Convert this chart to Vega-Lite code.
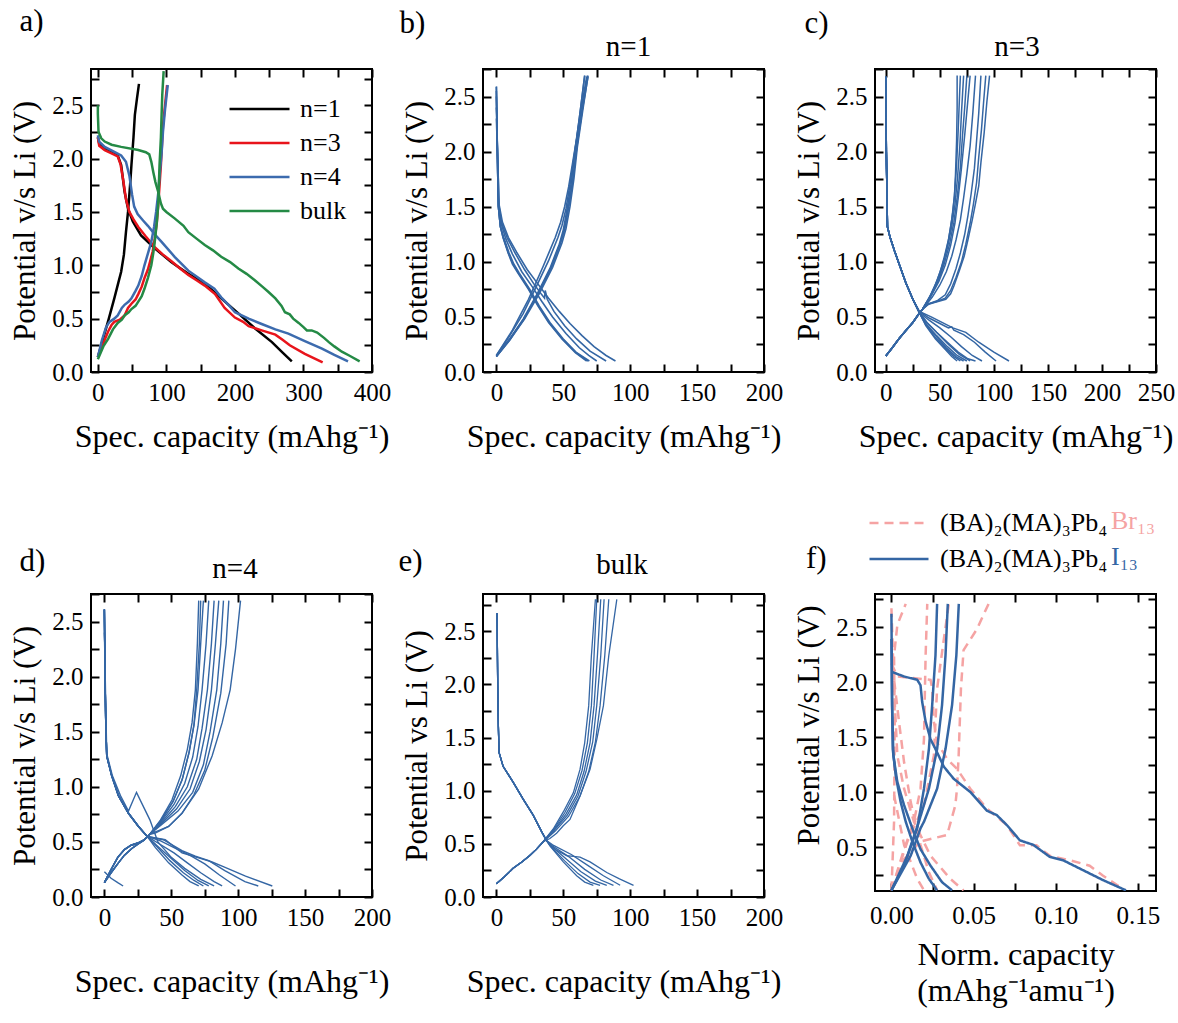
{
"$schema":"https://vega.github.io/schema/vega-lite/v6.json",
"background":"white",
"padding":{"left":8,"top":4,"right":5,"bottom":5},
"bounds":"flush",
"columns":3,
"spacing":{"row":222,"column":111},
"resolve":{"scale":{"color":"independent","strokeDash":"independent","strokeWidth":"independent"},"legend":{"color":"independent","strokeDash":"independent","strokeWidth":"independent"}},
"concat":[
{
"width":281,"height":303,
"resolve":{"axis":{"x":"independent","y":"independent"}},
"data":{"values":[
{"n":"n=1","s":"1d","x":0,"y":2.2},{"n":"n=1","s":"1d","x":2,"y":2.14},{"n":"n=1","s":"1d","x":8,"y":2.1},{"n":"n=1","s":"1d","x":20,"y":2.06},{"n":"n=1","s":"1d","x":29,"y":2.03},{"n":"n=1","s":"1d","x":34,"y":1.94},{"n":"n=1","s":"1d","x":39,"y":1.69},{"n":"n=1","s":"1d","x":44,"y":1.53},{"n":"n=1","s":"1d","x":51,"y":1.41},{"n":"n=1","s":"1d","x":63,"y":1.28},{"n":"n=1","s":"1d","x":83,"y":1.16},{"n":"n=1","s":"1d","x":107,"y":1.03},{"n":"n=1","s":"1d","x":132,"y":0.92},{"n":"n=1","s":"1d","x":156,"y":0.83},{"n":"n=1","s":"1d","x":180,"y":0.69},{"n":"n=1","s":"1d","x":205,"y":0.55},{"n":"n=1","s":"1d","x":229,"y":0.41},{"n":"n=1","s":"1d","x":254,"y":0.28},{"n":"n=1","s":"1d","x":270,"y":0.18},{"n":"n=1","s":"1d","x":283,"y":0.1},
{"n":"n=1","s":"1c","x":0,"y":0.14},{"n":"n=1","s":"1c","x":8,"y":0.32},{"n":"n=1","s":"1c","x":16,"y":0.5},{"n":"n=1","s":"1c","x":24,"y":0.69},{"n":"n=1","s":"1c","x":30,"y":0.84},{"n":"n=1","s":"1c","x":34,"y":0.94},{"n":"n=1","s":"1c","x":38,"y":1.1},{"n":"n=1","s":"1c","x":41,"y":1.31},{"n":"n=1","s":"1c","x":44,"y":1.5},{"n":"n=1","s":"1c","x":47,"y":1.75},{"n":"n=1","s":"1c","x":49,"y":1.94},{"n":"n=1","s":"1c","x":52,"y":2.2},{"n":"n=1","s":"1c","x":54,"y":2.41},{"n":"n=1","s":"1c","x":57,"y":2.56},{"n":"n=1","s":"1c","x":60,"y":2.7},
{"n":"n=3","s":"3d","x":0,"y":2.2},{"n":"n=3","s":"3d","x":2,"y":2.12},{"n":"n=3","s":"3d","x":10,"y":2.08},{"n":"n=3","s":"3d","x":20,"y":2.05},{"n":"n=3","s":"3d","x":29,"y":2.02},{"n":"n=3","s":"3d","x":33,"y":1.95},{"n":"n=3","s":"3d","x":37,"y":1.8},{"n":"n=3","s":"3d","x":41,"y":1.62},{"n":"n=3","s":"3d","x":46,"y":1.5},{"n":"n=3","s":"3d","x":52,"y":1.43},{"n":"n=3","s":"3d","x":59,"y":1.36},{"n":"n=3","s":"3d","x":70,"y":1.27},{"n":"n=3","s":"3d","x":83,"y":1.17},{"n":"n=3","s":"3d","x":95,"y":1.1},{"n":"n=3","s":"3d","x":107,"y":1.04},{"n":"n=3","s":"3d","x":120,"y":0.97},{"n":"n=3","s":"3d","x":132,"y":0.91},{"n":"n=3","s":"3d","x":144,"y":0.86},{"n":"n=3","s":"3d","x":156,"y":0.81},{"n":"n=3","s":"3d","x":171,"y":0.73},{"n":"n=3","s":"3d","x":185,"y":0.6},{"n":"n=3","s":"3d","x":200,"y":0.51},{"n":"n=3","s":"3d","x":212,"y":0.47},{"n":"n=3","s":"3d","x":220,"y":0.43},{"n":"n=3","s":"3d","x":239,"y":0.39},{"n":"n=3","s":"3d","x":259,"y":0.35},{"n":"n=3","s":"3d","x":270,"y":0.3},{"n":"n=3","s":"3d","x":280,"y":0.25},{"n":"n=3","s":"3d","x":302,"y":0.17},{"n":"n=3","s":"3d","x":328,"y":0.09},
{"n":"n=3","s":"3c","x":0,"y":0.14},{"n":"n=3","s":"3c","x":8,"y":0.27},{"n":"n=3","s":"3c","x":15,"y":0.38},{"n":"n=3","s":"3c","x":20,"y":0.44},{"n":"n=3","s":"3c","x":24,"y":0.47},{"n":"n=3","s":"3c","x":32,"y":0.49},{"n":"n=3","s":"3c","x":39,"y":0.53},{"n":"n=3","s":"3c","x":44,"y":0.6},{"n":"n=3","s":"3c","x":49,"y":0.64},{"n":"n=3","s":"3c","x":55,"y":0.68},{"n":"n=3","s":"3c","x":59,"y":0.73},{"n":"n=3","s":"3c","x":64,"y":0.8},{"n":"n=3","s":"3c","x":68,"y":0.88},{"n":"n=3","s":"3c","x":73,"y":0.96},{"n":"n=3","s":"3c","x":76,"y":1.03},{"n":"n=3","s":"3c","x":80,"y":1.13},{"n":"n=3","s":"3c","x":83,"y":1.25},{"n":"n=3","s":"3c","x":86,"y":1.4},{"n":"n=3","s":"3c","x":88,"y":1.56},{"n":"n=3","s":"3c","x":90,"y":1.75},{"n":"n=3","s":"3c","x":92,"y":1.94},{"n":"n=3","s":"3c","x":95,"y":2.31},{"n":"n=3","s":"3c","x":98,"y":2.5},{"n":"n=3","s":"3c","x":101,"y":2.69},
{"n":"n=4","s":"4d","x":0,"y":2.22},{"n":"n=4","s":"4d","x":2,"y":2.16},{"n":"n=4","s":"4d","x":10,"y":2.11},{"n":"n=4","s":"4d","x":22,"y":2.07},{"n":"n=4","s":"4d","x":34,"y":2.03},{"n":"n=4","s":"4d","x":41,"y":1.97},{"n":"n=4","s":"4d","x":46,"y":1.84},{"n":"n=4","s":"4d","x":50,"y":1.66},{"n":"n=4","s":"4d","x":53,"y":1.55},{"n":"n=4","s":"4d","x":58,"y":1.48},{"n":"n=4","s":"4d","x":66,"y":1.42},{"n":"n=4","s":"4d","x":73,"y":1.37},{"n":"n=4","s":"4d","x":83,"y":1.29},{"n":"n=4","s":"4d","x":93,"y":1.22},{"n":"n=4","s":"4d","x":112,"y":1.08},{"n":"n=4","s":"4d","x":132,"y":0.95},{"n":"n=4","s":"4d","x":156,"y":0.84},{"n":"n=4","s":"4d","x":170,"y":0.78},{"n":"n=4","s":"4d","x":180,"y":0.7},{"n":"n=4","s":"4d","x":192,"y":0.62},{"n":"n=4","s":"4d","x":200,"y":0.56},{"n":"n=4","s":"4d","x":210,"y":0.53},{"n":"n=4","s":"4d","x":220,"y":0.5},{"n":"n=4","s":"4d","x":239,"y":0.45},{"n":"n=4","s":"4d","x":259,"y":0.4},{"n":"n=4","s":"4d","x":278,"y":0.36},{"n":"n=4","s":"4d","x":302,"y":0.29},{"n":"n=4","s":"4d","x":327,"y":0.22},{"n":"n=4","s":"4d","x":345,"y":0.16},{"n":"n=4","s":"4d","x":365,"y":0.1},
{"n":"n=4","s":"4c","x":0,"y":0.14},{"n":"n=4","s":"4c","x":6,"y":0.3},{"n":"n=4","s":"4c","x":12,"y":0.42},{"n":"n=4","s":"4c","x":17,"y":0.47},{"n":"n=4","s":"4c","x":24,"y":0.5},{"n":"n=4","s":"4c","x":29,"y":0.53},{"n":"n=4","s":"4c","x":35,"y":0.6},{"n":"n=4","s":"4c","x":39,"y":0.63},{"n":"n=4","s":"4c","x":45,"y":0.66},{"n":"n=4","s":"4c","x":49,"y":0.69},{"n":"n=4","s":"4c","x":55,"y":0.76},{"n":"n=4","s":"4c","x":59,"y":0.81},{"n":"n=4","s":"4c","x":64,"y":0.9},{"n":"n=4","s":"4c","x":68,"y":1},{"n":"n=4","s":"4c","x":73,"y":1.11},{"n":"n=4","s":"4c","x":78,"y":1.22},{"n":"n=4","s":"4c","x":82,"y":1.36},{"n":"n=4","s":"4c","x":85,"y":1.5},{"n":"n=4","s":"4c","x":88,"y":1.67},{"n":"n=4","s":"4c","x":90,"y":1.84},{"n":"n=4","s":"4c","x":93,"y":2.05},{"n":"n=4","s":"4c","x":95,"y":2.25},{"n":"n=4","s":"4c","x":98,"y":2.46},{"n":"n=4","s":"4c","x":102,"y":2.69},
{"n":"bulk","s":"bd","x":0,"y":2.5},{"n":"bulk","s":"bd","x":0,"y":2.42},{"n":"bulk","s":"bd","x":1,"y":2.25},{"n":"bulk","s":"bd","x":5,"y":2.19},{"n":"bulk","s":"bd","x":10,"y":2.16},{"n":"bulk","s":"bd","x":20,"y":2.13},{"n":"bulk","s":"bd","x":34,"y":2.11},{"n":"bulk","s":"bd","x":59,"y":2.08},{"n":"bulk","s":"bd","x":70,"y":2.06},{"n":"bulk","s":"bd","x":75,"y":2.04},{"n":"bulk","s":"bd","x":78,"y":1.97},{"n":"bulk","s":"bd","x":81,"y":1.87},{"n":"bulk","s":"bd","x":84,"y":1.78},{"n":"bulk","s":"bd","x":88,"y":1.69},{"n":"bulk","s":"bd","x":92,"y":1.58},{"n":"bulk","s":"bd","x":95,"y":1.53},{"n":"bulk","s":"bd","x":100,"y":1.5},{"n":"bulk","s":"bd","x":112,"y":1.44},{"n":"bulk","s":"bd","x":125,"y":1.37},{"n":"bulk","s":"bd","x":132,"y":1.31},{"n":"bulk","s":"bd","x":144,"y":1.25},{"n":"bulk","s":"bd","x":156,"y":1.19},{"n":"bulk","s":"bd","x":168,"y":1.14},{"n":"bulk","s":"bd","x":180,"y":1.08},{"n":"bulk","s":"bd","x":193,"y":1.03},{"n":"bulk","s":"bd","x":205,"y":0.97},{"n":"bulk","s":"bd","x":217,"y":0.92},{"n":"bulk","s":"bd","x":229,"y":0.86},{"n":"bulk","s":"bd","x":240,"y":0.8},{"n":"bulk","s":"bd","x":249,"y":0.75},{"n":"bulk","s":"bd","x":259,"y":0.69},{"n":"bulk","s":"bd","x":268,"y":0.62},{"n":"bulk","s":"bd","x":273,"y":0.56},{"n":"bulk","s":"bd","x":280,"y":0.54},{"n":"bulk","s":"bd","x":285,"y":0.5},{"n":"bulk","s":"bd","x":293,"y":0.46},{"n":"bulk","s":"bd","x":300,"y":0.42},{"n":"bulk","s":"bd","x":305,"y":0.39},{"n":"bulk","s":"bd","x":312,"y":0.39},{"n":"bulk","s":"bd","x":320,"y":0.37},{"n":"bulk","s":"bd","x":330,"y":0.32},{"n":"bulk","s":"bd","x":337,"y":0.28},{"n":"bulk","s":"bd","x":345,"y":0.24},{"n":"bulk","s":"bd","x":356,"y":0.19},{"n":"bulk","s":"bd","x":368,"y":0.15},{"n":"bulk","s":"bd","x":382,"y":0.1},
{"n":"bulk","s":"bc","x":0,"y":0.12},{"n":"bulk","s":"bc","x":8,"y":0.24},{"n":"bulk","s":"bc","x":15,"y":0.31},{"n":"bulk","s":"bc","x":22,"y":0.4},{"n":"bulk","s":"bc","x":29,"y":0.46},{"n":"bulk","s":"bc","x":35,"y":0.49},{"n":"bulk","s":"bc","x":39,"y":0.53},{"n":"bulk","s":"bc","x":45,"y":0.56},{"n":"bulk","s":"bc","x":49,"y":0.59},{"n":"bulk","s":"bc","x":55,"y":0.62},{"n":"bulk","s":"bc","x":59,"y":0.66},{"n":"bulk","s":"bc","x":64,"y":0.71},{"n":"bulk","s":"bc","x":68,"y":0.78},{"n":"bulk","s":"bc","x":73,"y":0.88},{"n":"bulk","s":"bc","x":78,"y":1},{"n":"bulk","s":"bc","x":81,"y":1.12},{"n":"bulk","s":"bc","x":83,"y":1.22},{"n":"bulk","s":"bc","x":86,"y":1.4},{"n":"bulk","s":"bc","x":88,"y":1.56},{"n":"bulk","s":"bc","x":89,"y":1.75},{"n":"bulk","s":"bc","x":90,"y":1.94},{"n":"bulk","s":"bc","x":92,"y":2.2},{"n":"bulk","s":"bc","x":93,"y":2.41},{"n":"bulk","s":"bc","x":94,"y":2.6},{"n":"bulk","s":"bc","x":96,"y":2.82}
]},
"layer":[
{"mark":{"type":"line","strokeWidth":2.5,"clip":true},
"encoding":{
"x":{"field":"x","type":"quantitative","scale":{"domain":[-10,400],"nice":false,"zero":false},"axis":{"orient":"bottom","values":[0,50,100,150,200,250,300,350,400],"format":"d","labelExpr":"datum.value % 100 == 0 ? datum.label : ''","title":"Spec. capacity (mAhg⁻¹)","titlePadding":16}},
"y":{"field":"y","type":"quantitative","scale":{"domain":[0,2.84],"nice":false,"zero":false},"axis":{"orient":"left","values":[0,0.25,0.5,0.75,1,1.25,1.5,1.75,2,2.25,2.5,2.75],"format":".1f","labelExpr":"datum.value % 0.5 == 0 ? datum.label : ''","title":"Potential v/s Li (V)"}},
"color":{"field":"n","type":"nominal","scale":{"domain":["n=1","n=3","n=4","bulk"],"range":["#000000","#e8141b","#3c6bae","#248a45"]},"legend":{"orient":"none","legendX":137,"legendY":23,"title":null,"symbolType":"stroke","symbolSize":3600,"symbolStrokeWidth":2.5,"labelOffset":9,"labelFontSize":26,"rowPadding":0,"clipHeight":34}},
"detail":{"field":"s"},
"order":{"value":null}
}},
{"mark":{"type":"line","opacity":0},
"encoding":{
"x":{"field":"x","type":"quantitative","axis":{"orient":"top","values":[0,50,100,150,200,250,300,350,400],"labels":false,"title":"a)","titleX":-72,"titleY":-39,"titleAlign":"left","titleBaseline":"alphabetic","titleAngle":0,"titleFontSize":31}},
"y":{"field":"y","type":"quantitative","axis":{"orient":"right","values":[0,0.25,0.5,0.75,1,1.25,1.5,1.75,2,2.25,2.5,2.75],"labels":false,"title":null}},
"detail":{"field":"s"}
}}
]
},
{
"width":281,"height":303,
"resolve":{"axis":{"x":"independent","y":"independent"}},
"data":{"values":[
{"s":"1d","x":0,"y":2.59},{"s":"1d","x":1,"y":1.8},{"s":"1d","x":1.5,"y":1.5},{"s":"1d","x":3,"y":1.32},{"s":"1d","x":5,"y":1.22},{"s":"1d","x":8.75,"y":1.08},{"s":"1d","x":12,"y":0.98},{"s":"1d","x":16,"y":0.9},{"s":"1d","x":24,"y":0.75},{"s":"1d","x":31,"y":0.6},{"s":"1d","x":39,"y":0.45},{"s":"1d","x":49,"y":0.3},{"s":"1d","x":59,"y":0.175},{"s":"1d","x":67.5,"y":0.1},
{"s":"2d","x":0,"y":2.59},{"s":"2d","x":1,"y":1.8},{"s":"2d","x":1.5,"y":1.5},{"s":"2d","x":3,"y":1.32},{"s":"2d","x":5,"y":1.22},{"s":"2d","x":9,"y":1.08},{"s":"2d","x":12.5,"y":0.98},{"s":"2d","x":16.5,"y":0.9},{"s":"2d","x":24.5,"y":0.75},{"s":"2d","x":31.5,"y":0.6},{"s":"2d","x":39.5,"y":0.45},{"s":"2d","x":49.5,"y":0.3},{"s":"2d","x":59.5,"y":0.175},{"s":"2d","x":68.5,"y":0.1},
{"s":"3d","x":0,"y":2.55},{"s":"3d","x":1,"y":1.8},{"s":"3d","x":1.5,"y":1.5},{"s":"3d","x":3,"y":1.32},{"s":"3d","x":5.5,"y":1.22},{"s":"3d","x":9.5,"y":1.08},{"s":"3d","x":13,"y":0.98},{"s":"3d","x":17,"y":0.9},{"s":"3d","x":25,"y":0.75},{"s":"3d","x":32,"y":0.6},{"s":"3d","x":40,"y":0.45},{"s":"3d","x":50,"y":0.3},{"s":"3d","x":60,"y":0.175},{"s":"3d","x":69.5,"y":0.1},
{"s":"4d","x":0,"y":2.5},{"s":"4d","x":1.5,"y":1.52},{"s":"4d","x":3.5,"y":1.35},{"s":"4d","x":7,"y":1.21},{"s":"4d","x":12,"y":1.07},{"s":"4d","x":19,"y":0.91},{"s":"4d","x":27,"y":0.77},{"s":"4d","x":34,"y":0.64},{"s":"4d","x":42,"y":0.5},{"s":"4d","x":52,"y":0.35},{"s":"4d","x":62,"y":0.22},{"s":"4d","x":69,"y":0.15},{"s":"4d","x":75,"y":0.1},
{"s":"5d","x":0,"y":2.4},{"s":"5d","x":2,"y":1.5},{"s":"5d","x":4,"y":1.35},{"s":"5d","x":8,"y":1.22},{"s":"5d","x":14,"y":1.08},{"s":"5d","x":21,"y":0.93},{"s":"5d","x":28,"y":0.8},{"s":"5d","x":34,"y":0.7},{"s":"5d","x":36,"y":0.67},{"s":"5d","x":36.5,"y":0.74},{"s":"5d","x":38,"y":0.66},{"s":"5d","x":43,"y":0.55},{"s":"5d","x":51,"y":0.42},{"s":"5d","x":60,"y":0.3},{"s":"5d","x":70,"y":0.19},{"s":"5d","x":82,"y":0.1},
{"s":"6d","x":0,"y":2.3},{"s":"6d","x":2,"y":1.52},{"s":"6d","x":4.5,"y":1.36},{"s":"6d","x":9,"y":1.22},{"s":"6d","x":15,"y":1.09},{"s":"6d","x":23,"y":0.93},{"s":"6d","x":31,"y":0.8},{"s":"6d","x":39,"y":0.67},{"s":"6d","x":47,"y":0.55},{"s":"6d","x":55,"y":0.44},{"s":"6d","x":64,"y":0.33},{"s":"6d","x":73,"y":0.23},{"s":"6d","x":82,"y":0.15},{"s":"6d","x":89,"y":0.1},
{"s":"1c","x":0,"y":0.145},{"s":"1c","x":10,"y":0.3},{"s":"1c","x":20,"y":0.48},{"s":"1c","x":31,"y":0.72},{"s":"1c","x":40,"y":0.94},{"s":"1c","x":47,"y":1.16},{"s":"1c","x":50,"y":1.29},{"s":"1c","x":53,"y":1.49},{"s":"1c","x":56,"y":1.72},{"s":"1c","x":59,"y":2.03},{"s":"1c","x":63,"y":2.36},{"s":"1c","x":67.5,"y":2.68},
{"s":"2c","x":0,"y":0.15},{"s":"2c","x":10,"y":0.33},{"s":"2c","x":20,"y":0.53},{"s":"2c","x":30,"y":0.78},{"s":"2c","x":39,"y":1.01},{"s":"2c","x":46,"y":1.22},{"s":"2c","x":49,"y":1.33},{"s":"2c","x":52,"y":1.48},{"s":"2c","x":55,"y":1.7},{"s":"2c","x":58,"y":1.95},{"s":"2c","x":62,"y":2.3},{"s":"2c","x":66,"y":2.69},
{"s":"3c","x":0,"y":0.15},{"s":"3c","x":12,"y":0.38},{"s":"3c","x":24,"y":0.66},{"s":"3c","x":35,"y":0.96},{"s":"3c","x":44,"y":1.22},{"s":"3c","x":48,"y":1.36},{"s":"3c","x":51,"y":1.5},{"s":"3c","x":54,"y":1.68},{"s":"3c","x":57,"y":1.9},{"s":"3c","x":60,"y":2.12},{"s":"3c","x":63,"y":2.4},{"s":"3c","x":66,"y":2.69},
{"s":"4c","x":0,"y":0.14},{"s":"4c","x":10,"y":0.29},{"s":"4c","x":21,"y":0.49},{"s":"4c","x":32,"y":0.73},{"s":"4c","x":41,"y":0.95},{"s":"4c","x":48,"y":1.17},{"s":"4c","x":51,"y":1.3},{"s":"4c","x":54,"y":1.5},{"s":"4c","x":57,"y":1.73},{"s":"4c","x":60,"y":2.04},{"s":"4c","x":64,"y":2.37},{"s":"4c","x":68,"y":2.69},
{"s":"5c","x":0,"y":0.14},{"s":"5c","x":10,"y":0.3},{"s":"5c","x":20,"y":0.47},{"s":"5c","x":31,"y":0.71},{"s":"5c","x":41,"y":0.95},{"s":"5c","x":48,"y":1.18},{"s":"5c","x":51,"y":1.3},{"s":"5c","x":54,"y":1.5},{"s":"5c","x":57,"y":1.73},{"s":"5c","x":60,"y":2.03},{"s":"5c","x":64,"y":2.36},{"s":"5c","x":68.5,"y":2.68},
{"s":"6c","x":0,"y":0.14},{"s":"6c","x":10,"y":0.29},{"s":"6c","x":21,"y":0.48},{"s":"6c","x":32,"y":0.71},{"s":"6c","x":42,"y":0.95},{"s":"6c","x":49,"y":1.17},{"s":"6c","x":52,"y":1.3},{"s":"6c","x":55,"y":1.5},{"s":"6c","x":58,"y":1.76},{"s":"6c","x":60.5,"y":2.04},{"s":"6c","x":64.5,"y":2.37},{"s":"6c","x":68.5,"y":2.69}
]},
"layer":[
{"mark":{"type":"line","strokeWidth":1.6,"color":"#3466a4","clip":true},
"encoding":{
"x":{"field":"x","type":"quantitative","scale":{"domain":[-10,200],"nice":false,"zero":false},"axis":{"orient":"bottom","values":[0,25,50,75,100,125,150,175,200],"format":"d","labelExpr":"datum.value % 50 == 0 ? datum.label : ''","title":"Spec. capacity (mAhg⁻¹)","titlePadding":16}},
"y":{"field":"y","type":"quantitative","scale":{"domain":[0,2.75],"nice":false,"zero":false},"axis":{"orient":"left","values":[0,0.25,0.5,0.75,1,1.25,1.5,1.75,2,2.25,2.5,2.75],"format":".1f","labelExpr":"datum.value % 0.5 == 0 ? datum.label : ''","title":"Potential v/s Li (V)"}},
"detail":{"field":"s"},
"order":{"value":null}
}},
{"mark":{"type":"line","opacity":0},
"encoding":{
"x":{"field":"x","type":"quantitative","axis":{"orient":"top","values":[0,25,50,75,100,125,150,175,200],"labels":false,"title":"b)","titleX":-84,"titleY":-37,"titleAlign":"left","titleBaseline":"alphabetic","titleAngle":0,"titleFontSize":31}},
"y":{"field":"y","type":"quantitative","axis":{"orient":"right","values":[0,0.25,0.5,0.75,1,1.25,1.5,1.75,2,2.25,2.5,2.75],"labels":false,"title":"n=1","titleX":-136,"titleY":-14,"titleAngle":0,"titleAlign":"center","titleBaseline":"alphabetic","titleFontSize":29}},
"detail":{"field":"s"}
}}
]
},
{
"width":281,"height":303,
"resolve":{"axis":{"x":"independent","y":"independent"}},
"data":{"values":[
{"s":"1d","x":0,"y":2.68},{"s":"1d","x":0.5,"y":2},{"s":"1d","x":1.5,"y":1.32},{"s":"1d","x":4,"y":1.22},{"s":"1d","x":8,"y":1.1},{"s":"1d","x":12,"y":0.99},{"s":"1d","x":18.5,"y":0.81},{"s":"1d","x":25,"y":0.66},{"s":"1d","x":31,"y":0.54},{"s":"1d","x":37,"y":0.42},{"s":"1d","x":46,"y":0.3},{"s":"1d","x":55.5,"y":0.2},{"s":"1d","x":61,"y":0.14},{"s":"1d","x":66,"y":0.1},
{"s":"2d","x":0,"y":2.68},{"s":"2d","x":0.5,"y":2},{"s":"2d","x":1.5,"y":1.32},{"s":"2d","x":4,"y":1.22},{"s":"2d","x":8,"y":1.1},{"s":"2d","x":12,"y":0.99},{"s":"2d","x":18.5,"y":0.81},{"s":"2d","x":25,"y":0.66},{"s":"2d","x":31,"y":0.54},{"s":"2d","x":37,"y":0.43},{"s":"2d","x":46,"y":0.31},{"s":"2d","x":56,"y":0.21},{"s":"2d","x":63,"y":0.14},{"s":"2d","x":69,"y":0.1},
{"s":"3d","x":0,"y":2.68},{"s":"3d","x":0.5,"y":2},{"s":"3d","x":1.5,"y":1.32},{"s":"3d","x":4,"y":1.22},{"s":"3d","x":8,"y":1.1},{"s":"3d","x":12,"y":0.99},{"s":"3d","x":18.5,"y":0.81},{"s":"3d","x":25,"y":0.66},{"s":"3d","x":31,"y":0.54},{"s":"3d","x":37,"y":0.43},{"s":"3d","x":47,"y":0.32},{"s":"3d","x":56,"y":0.22},{"s":"3d","x":65,"y":0.14},{"s":"3d","x":72,"y":0.1},
{"s":"9d","x":0,"y":2.68},{"s":"9d","x":0.5,"y":2},{"s":"9d","x":1.5,"y":1.32},{"s":"9d","x":4,"y":1.22},{"s":"9d","x":8,"y":1.1},{"s":"9d","x":12,"y":0.99},{"s":"9d","x":18.5,"y":0.81},{"s":"9d","x":25,"y":0.66},{"s":"9d","x":31,"y":0.54},{"s":"9d","x":37,"y":0.44},{"s":"9d","x":47,"y":0.33},{"s":"9d","x":57,"y":0.23},{"s":"9d","x":66,"y":0.15},{"s":"9d","x":75,"y":0.1},
{"s":"4d","x":0,"y":2.68},{"s":"4d","x":0.5,"y":2},{"s":"4d","x":1.5,"y":1.32},{"s":"4d","x":4,"y":1.22},{"s":"4d","x":8,"y":1.1},{"s":"4d","x":12,"y":0.99},{"s":"4d","x":18.5,"y":0.81},{"s":"4d","x":25,"y":0.66},{"s":"4d","x":31,"y":0.54},{"s":"4d","x":38,"y":0.45},{"s":"4d","x":48,"y":0.35},{"s":"4d","x":58,"y":0.25},{"s":"4d","x":68,"y":0.16},{"s":"4d","x":78,"y":0.1},
{"s":"8d","x":0,"y":2.68},{"s":"8d","x":0.5,"y":2},{"s":"8d","x":1.5,"y":1.32},{"s":"8d","x":4,"y":1.22},{"s":"8d","x":8,"y":1.1},{"s":"8d","x":12,"y":0.99},{"s":"8d","x":18.5,"y":0.81},{"s":"8d","x":25,"y":0.66},{"s":"8d","x":31,"y":0.54},{"s":"8d","x":38,"y":0.45},{"s":"8d","x":47,"y":0.36},{"s":"8d","x":57,"y":0.27},{"s":"8d","x":67,"y":0.18},{"s":"8d","x":76,"y":0.12},{"s":"8d","x":83,"y":0.1},
{"s":"5d","x":0,"y":2.68},{"s":"5d","x":0.5,"y":2},{"s":"5d","x":1.5,"y":1.32},{"s":"5d","x":4,"y":1.22},{"s":"5d","x":8,"y":1.1},{"s":"5d","x":12,"y":0.99},{"s":"5d","x":18.5,"y":0.81},{"s":"5d","x":25,"y":0.66},{"s":"5d","x":31,"y":0.54},{"s":"5d","x":40,"y":0.47},{"s":"5d","x":50,"y":0.4},{"s":"5d","x":60,"y":0.32},{"s":"5d","x":70,"y":0.23},{"s":"5d","x":80,"y":0.15},{"s":"5d","x":89,"y":0.1},
{"s":"6d","x":0,"y":2.68},{"s":"6d","x":0.5,"y":2},{"s":"6d","x":1.5,"y":1.32},{"s":"6d","x":4,"y":1.22},{"s":"6d","x":8,"y":1.1},{"s":"6d","x":12,"y":0.99},{"s":"6d","x":18.5,"y":0.81},{"s":"6d","x":25,"y":0.66},{"s":"6d","x":31,"y":0.55},{"s":"6d","x":40,"y":0.49},{"s":"6d","x":50,"y":0.44},{"s":"6d","x":58,"y":0.4},{"s":"6d","x":61,"y":0.41},{"s":"6d","x":63,"y":0.38},{"s":"6d","x":72,"y":0.34},{"s":"6d","x":82,"y":0.27},{"s":"6d","x":92,"y":0.18},{"s":"6d","x":102,"y":0.1},
{"s":"7d","x":0,"y":2.68},{"s":"7d","x":0.5,"y":2},{"s":"7d","x":1.5,"y":1.32},{"s":"7d","x":4,"y":1.22},{"s":"7d","x":8,"y":1.1},{"s":"7d","x":12,"y":0.99},{"s":"7d","x":18.5,"y":0.81},{"s":"7d","x":25,"y":0.66},{"s":"7d","x":31,"y":0.55},{"s":"7d","x":42,"y":0.5},{"s":"7d","x":52,"y":0.45},{"s":"7d","x":62,"y":0.4},{"s":"7d","x":74,"y":0.36},{"s":"7d","x":86,"y":0.27},{"s":"7d","x":100,"y":0.18},{"s":"7d","x":114,"y":0.1},
{"s":"1c","x":0,"y":0.145},{"s":"1c","x":6,"y":0.22},{"s":"1c","x":12,"y":0.3},{"s":"1c","x":18,"y":0.37},{"s":"1c","x":25,"y":0.45},{"s":"1c","x":30,"y":0.52},{"s":"1c","x":34,"y":0.57},{"s":"1c","x":39,"y":0.65},{"s":"1c","x":43,"y":0.72},{"s":"1c","x":47,"y":0.81},{"s":"1c","x":51,"y":0.9},{"s":"1c","x":55.5,"y":1.08},{"s":"1c","x":58,"y":1.2},{"s":"1c","x":60,"y":1.32},{"s":"1c","x":62,"y":1.45},{"s":"1c","x":63.5,"y":1.6},{"s":"1c","x":64.5,"y":1.8},{"s":"1c","x":65.5,"y":2.1},{"s":"1c","x":66,"y":2.4},{"s":"1c","x":66,"y":2.69},
{"s":"2c","x":0,"y":0.145},{"s":"2c","x":6,"y":0.22},{"s":"2c","x":12,"y":0.3},{"s":"2c","x":18,"y":0.37},{"s":"2c","x":25,"y":0.45},{"s":"2c","x":30,"y":0.52},{"s":"2c","x":34,"y":0.57},{"s":"2c","x":40,"y":0.67},{"s":"2c","x":45,"y":0.77},{"s":"2c","x":50,"y":0.9},{"s":"2c","x":54,"y":1.04},{"s":"2c","x":58,"y":1.2},{"s":"2c","x":61,"y":1.38},{"s":"2c","x":63.5,"y":1.6},{"s":"2c","x":65.5,"y":1.88},{"s":"2c","x":67,"y":2.2},{"s":"2c","x":68,"y":2.45},{"s":"2c","x":69,"y":2.69},
{"s":"3c","x":0,"y":0.145},{"s":"3c","x":6,"y":0.22},{"s":"3c","x":12,"y":0.3},{"s":"3c","x":18,"y":0.37},{"s":"3c","x":25,"y":0.45},{"s":"3c","x":30,"y":0.52},{"s":"3c","x":34,"y":0.57},{"s":"3c","x":41,"y":0.69},{"s":"3c","x":47,"y":0.82},{"s":"3c","x":52,"y":0.96},{"s":"3c","x":57,"y":1.13},{"s":"3c","x":61,"y":1.32},{"s":"3c","x":64,"y":1.52},{"s":"3c","x":66.5,"y":1.78},{"s":"3c","x":68.5,"y":2.05},{"s":"3c","x":70,"y":2.35},{"s":"3c","x":72,"y":2.69},
{"s":"4c","x":0,"y":0.145},{"s":"4c","x":6,"y":0.22},{"s":"4c","x":12,"y":0.3},{"s":"4c","x":18,"y":0.37},{"s":"4c","x":25,"y":0.45},{"s":"4c","x":30,"y":0.52},{"s":"4c","x":34,"y":0.57},{"s":"4c","x":42,"y":0.7},{"s":"4c","x":49,"y":0.84},{"s":"4c","x":54,"y":0.98},{"s":"4c","x":59,"y":1.16},{"s":"4c","x":63,"y":1.36},{"s":"4c","x":66,"y":1.58},{"s":"4c","x":69,"y":1.86},{"s":"4c","x":71,"y":2.15},{"s":"4c","x":73,"y":2.4},{"s":"4c","x":75,"y":2.69},
{"s":"9c","x":0,"y":0.145},{"s":"9c","x":6,"y":0.22},{"s":"9c","x":12,"y":0.3},{"s":"9c","x":18,"y":0.37},{"s":"9c","x":25,"y":0.45},{"s":"9c","x":30,"y":0.52},{"s":"9c","x":34,"y":0.57},{"s":"9c","x":42,"y":0.69},{"s":"9c","x":49,"y":0.82},{"s":"9c","x":55,"y":0.97},{"s":"9c","x":60,"y":1.15},{"s":"9c","x":64,"y":1.35},{"s":"9c","x":67,"y":1.58},{"s":"9c","x":70,"y":1.85},{"s":"9c","x":73,"y":2.15},{"s":"9c","x":75.5,"y":2.42},{"s":"9c","x":78,"y":2.69},
{"s":"5c","x":0,"y":0.145},{"s":"5c","x":6,"y":0.22},{"s":"5c","x":12,"y":0.3},{"s":"5c","x":18,"y":0.37},{"s":"5c","x":25,"y":0.45},{"s":"5c","x":30,"y":0.52},{"s":"5c","x":34,"y":0.57},{"s":"5c","x":43,"y":0.68},{"s":"5c","x":50,"y":0.79},{"s":"5c","x":56,"y":0.91},{"s":"5c","x":61,"y":1.05},{"s":"5c","x":65,"y":1.2},{"s":"5c","x":69,"y":1.38},{"s":"5c","x":72,"y":1.58},{"s":"5c","x":75,"y":1.8},{"s":"5c","x":78,"y":2.05},{"s":"5c","x":80.5,"y":2.35},{"s":"5c","x":83,"y":2.69},
{"s":"6c","x":0,"y":0.145},{"s":"6c","x":6,"y":0.22},{"s":"6c","x":12,"y":0.3},{"s":"6c","x":18,"y":0.37},{"s":"6c","x":25,"y":0.45},{"s":"6c","x":30,"y":0.52},{"s":"6c","x":34,"y":0.57},{"s":"6c","x":40,"y":0.62},{"s":"6c","x":48,"y":0.65},{"s":"6c","x":55,"y":0.7},{"s":"6c","x":60,"y":0.8},{"s":"6c","x":65,"y":0.94},{"s":"6c","x":69,"y":1.08},{"s":"6c","x":73,"y":1.25},{"s":"6c","x":76,"y":1.42},{"s":"6c","x":79,"y":1.62},{"s":"6c","x":82,"y":1.85},{"s":"6c","x":84,"y":2.1},{"s":"6c","x":86,"y":2.35},{"s":"6c","x":88,"y":2.69},
{"s":"8c","x":0,"y":0.145},{"s":"8c","x":6,"y":0.22},{"s":"8c","x":12,"y":0.3},{"s":"8c","x":18,"y":0.37},{"s":"8c","x":25,"y":0.45},{"s":"8c","x":30,"y":0.52},{"s":"8c","x":34,"y":0.57},{"s":"8c","x":40,"y":0.62},{"s":"8c","x":47,"y":0.64},{"s":"8c","x":55,"y":0.67},{"s":"8c","x":60,"y":0.74},{"s":"8c","x":65,"y":0.86},{"s":"8c","x":70,"y":1},{"s":"8c","x":74,"y":1.16},{"s":"8c","x":78,"y":1.35},{"s":"8c","x":81,"y":1.52},{"s":"8c","x":84,"y":1.72},{"s":"8c","x":86,"y":1.95},{"s":"8c","x":88.5,"y":2.2},{"s":"8c","x":90.5,"y":2.45},{"s":"8c","x":92.5,"y":2.69},
{"s":"7c","x":0,"y":0.145},{"s":"7c","x":6,"y":0.22},{"s":"7c","x":12,"y":0.3},{"s":"7c","x":18,"y":0.37},{"s":"7c","x":25,"y":0.45},{"s":"7c","x":30,"y":0.52},{"s":"7c","x":34,"y":0.57},{"s":"7c","x":38,"y":0.61},{"s":"7c","x":45,"y":0.63},{"s":"7c","x":55.5,"y":0.66},{"s":"7c","x":60,"y":0.71},{"s":"7c","x":63,"y":0.78},{"s":"7c","x":68,"y":0.92},{"s":"7c","x":72.5,"y":1.05},{"s":"7c","x":76,"y":1.2},{"s":"7c","x":80,"y":1.38},{"s":"7c","x":83,"y":1.53},{"s":"7c","x":86,"y":1.69},{"s":"7c","x":88,"y":1.9},{"s":"7c","x":91,"y":2.17},{"s":"7c","x":93.5,"y":2.45},{"s":"7c","x":96,"y":2.69}
]},
"layer":[
{"mark":{"type":"line","strokeWidth":1.5,"color":"#3466a4","clip":true},
"encoding":{
"x":{"field":"x","type":"quantitative","scale":{"domain":[-10,250],"nice":false,"zero":false},"axis":{"orient":"bottom","values":[0,25,50,75,100,125,150,175,200,225,250],"format":"d","labelExpr":"datum.value % 50 == 0 ? datum.label : ''","title":"Spec. capacity (mAhg⁻¹)","titlePadding":16}},
"y":{"field":"y","type":"quantitative","scale":{"domain":[0,2.75],"nice":false,"zero":false},"axis":{"orient":"left","values":[0,0.25,0.5,0.75,1,1.25,1.5,1.75,2,2.25,2.5,2.75],"format":".1f","labelExpr":"datum.value % 0.5 == 0 ? datum.label : ''","title":"Potential v/s Li (V)"}},
"detail":{"field":"s"},
"order":{"value":null}
}},
{"mark":{"type":"line","opacity":0},
"encoding":{
"x":{"field":"x","type":"quantitative","axis":{"orient":"top","values":[0,25,50,75,100,125,150,175,200,225,250],"labels":false,"title":"c)","titleX":-71,"titleY":-37,"titleAlign":"left","titleBaseline":"alphabetic","titleAngle":0,"titleFontSize":31}},
"y":{"field":"y","type":"quantitative","axis":{"orient":"right","values":[0,0.25,0.5,0.75,1,1.25,1.5,1.75,2,2.25,2.5,2.75],"labels":false,"title":"n=3","titleX":-139.5,"titleY":-14,"titleAngle":0,"titleAlign":"center","titleBaseline":"alphabetic","titleFontSize":29}},
"detail":{"field":"s"}
}}
]
},
{
"width":281,"height":303,
"resolve":{"axis":{"x":"independent","y":"independent"}},
"data":{"values":[
{"s":"1d","x":0,"y":2.61},{"s":"1d","x":0.5,"y":2},{"s":"1d","x":1,"y":1.6},{"s":"1d","x":1.75,"y":1.28},{"s":"1d","x":5.5,"y":1.1},{"s":"1d","x":10.5,"y":0.92},{"s":"1d","x":18,"y":0.76},{"s":"1d","x":25.5,"y":0.64},{"s":"1d","x":32,"y":0.55},{"s":"1d","x":38,"y":0.45},{"s":"1d","x":48,"y":0.31},{"s":"1d","x":58,"y":0.2},{"s":"1d","x":64,"y":0.14},{"s":"1d","x":70.5,"y":0.1},
{"s":"2d","x":0,"y":2.61},{"s":"2d","x":0.5,"y":2},{"s":"2d","x":1,"y":1.6},{"s":"2d","x":1.75,"y":1.28},{"s":"2d","x":5.5,"y":1.1},{"s":"2d","x":10.5,"y":0.92},{"s":"2d","x":18,"y":0.76},{"s":"2d","x":25.5,"y":0.64},{"s":"2d","x":32,"y":0.55},{"s":"2d","x":39,"y":0.46},{"s":"2d","x":49,"y":0.33},{"s":"2d","x":59,"y":0.22},{"s":"2d","x":67,"y":0.15},{"s":"2d","x":74,"y":0.1},
{"s":"3d","x":0,"y":2.61},{"s":"3d","x":0.5,"y":2},{"s":"3d","x":1,"y":1.6},{"s":"3d","x":1.75,"y":1.28},{"s":"3d","x":5.5,"y":1.1},{"s":"3d","x":10.5,"y":0.92},{"s":"3d","x":18,"y":0.76},{"s":"3d","x":25.5,"y":0.64},{"s":"3d","x":32,"y":0.55},{"s":"3d","x":39,"y":0.47},{"s":"3d","x":50,"y":0.35},{"s":"3d","x":60,"y":0.24},{"s":"3d","x":70,"y":0.15},{"s":"3d","x":78,"y":0.1},
{"s":"4d","x":0,"y":2.61},{"s":"4d","x":0.5,"y":2},{"s":"4d","x":1,"y":1.6},{"s":"4d","x":1.75,"y":1.28},{"s":"4d","x":5.5,"y":1.1},{"s":"4d","x":10.5,"y":0.92},{"s":"4d","x":18,"y":0.76},{"s":"4d","x":25.5,"y":0.64},{"s":"4d","x":32,"y":0.55},{"s":"4d","x":40,"y":0.49},{"s":"4d","x":52,"y":0.4},{"s":"4d","x":62,"y":0.31},{"s":"4d","x":72,"y":0.22},{"s":"4d","x":82,"y":0.14},{"s":"4d","x":88,"y":0.1},
{"s":"5d","x":0,"y":2.61},{"s":"5d","x":0.5,"y":2},{"s":"5d","x":1,"y":1.6},{"s":"5d","x":1.75,"y":1.28},{"s":"5d","x":5.5,"y":1.1},{"s":"5d","x":10.5,"y":0.92},{"s":"5d","x":18,"y":0.76},{"s":"5d","x":25.5,"y":0.64},{"s":"5d","x":32,"y":0.55},{"s":"5d","x":42,"y":0.51},{"s":"5d","x":55,"y":0.43},{"s":"5d","x":65,"y":0.37},{"s":"5d","x":75,"y":0.3},{"s":"5d","x":86,"y":0.2},{"s":"5d","x":98,"y":0.1},
{"s":"6d","x":0,"y":2.61},{"s":"6d","x":0.5,"y":2},{"s":"6d","x":1,"y":1.6},{"s":"6d","x":1.75,"y":1.28},{"s":"6d","x":5.5,"y":1.1},{"s":"6d","x":10.5,"y":0.92},{"s":"6d","x":18,"y":0.76},{"s":"6d","x":25.5,"y":0.64},{"s":"6d","x":32,"y":0.55},{"s":"6d","x":44,"y":0.52},{"s":"6d","x":58,"y":0.42},{"s":"6d","x":68,"y":0.37},{"s":"6d","x":78,"y":0.33},{"s":"6d","x":90,"y":0.24},{"s":"6d","x":105,"y":0.14},{"s":"6d","x":115,"y":0.1},
{"s":"7d","x":0,"y":2.61},{"s":"7d","x":0.5,"y":2},{"s":"7d","x":1,"y":1.6},{"s":"7d","x":1.75,"y":1.28},{"s":"7d","x":5.5,"y":1.1},{"s":"7d","x":10.5,"y":0.92},{"s":"7d","x":18,"y":0.76},{"s":"7d","x":25.5,"y":0.64},{"s":"7d","x":32,"y":0.55},{"s":"7d","x":45.5,"y":0.52},{"s":"7d","x":58,"y":0.4},{"s":"7d","x":70.5,"y":0.355},{"s":"7d","x":80,"y":0.32},{"s":"7d","x":88,"y":0.28},{"s":"7d","x":105.5,"y":0.19},{"s":"7d","x":125.5,"y":0.1},
{"s":"8d","x":0,"y":2.4},{"s":"8d","x":1.75,"y":1.3},{"s":"8d","x":6,"y":1.1},{"s":"8d","x":12,"y":0.92},{"s":"8d","x":18,"y":0.78},{"s":"8d","x":24,"y":0.95},{"s":"8d","x":34,"y":0.7},{"s":"8d","x":40,"y":0.5},{"s":"8d","x":50,"y":0.36},{"s":"8d","x":60,"y":0.26},{"s":"8d","x":72,"y":0.16},{"s":"8d","x":82,"y":0.1},
{"s":"9d","x":0,"y":0.23},{"s":"9d","x":5,"y":0.17},{"s":"9d","x":10,"y":0.13},{"s":"9d","x":14,"y":0.1},
{"s":"1c","x":0,"y":0.13},{"s":"1c","x":5,"y":0.22},{"s":"1c","x":10.5,"y":0.31},{"s":"1c","x":15,"y":0.38},{"s":"1c","x":20.5,"y":0.44},{"s":"1c","x":25,"y":0.48},{"s":"1c","x":29,"y":0.51},{"s":"1c","x":34,"y":0.57},{"s":"1c","x":42,"y":0.7},{"s":"1c","x":50.5,"y":0.88},{"s":"1c","x":57,"y":1.1},{"s":"1c","x":62,"y":1.34},{"s":"1c","x":65.5,"y":1.58},{"s":"1c","x":68,"y":1.88},{"s":"1c","x":69.5,"y":2.3},{"s":"1c","x":70.5,"y":2.69},
{"s":"9c","x":0,"y":0.13},{"s":"9c","x":5,"y":0.25},{"s":"9c","x":10,"y":0.36},{"s":"9c","x":15,"y":0.43},{"s":"9c","x":20,"y":0.47},{"s":"9c","x":25,"y":0.49},{"s":"9c","x":30,"y":0.52},{"s":"9c","x":34,"y":0.57},{"s":"9c","x":42,"y":0.69},{"s":"9c","x":51.5,"y":0.87},{"s":"9c","x":58.5,"y":1.08},{"s":"9c","x":63.5,"y":1.32},{"s":"9c","x":67,"y":1.57},{"s":"9c","x":69,"y":1.88},{"s":"9c","x":71,"y":2.3},{"s":"9c","x":72,"y":2.69},
{"s":"2c","x":0,"y":0.13},{"s":"2c","x":5,"y":0.25},{"s":"2c","x":10,"y":0.36},{"s":"2c","x":15,"y":0.43},{"s":"2c","x":20,"y":0.47},{"s":"2c","x":25,"y":0.49},{"s":"2c","x":30,"y":0.52},{"s":"2c","x":34,"y":0.57},{"s":"2c","x":42,"y":0.69},{"s":"2c","x":51,"y":0.86},{"s":"2c","x":58,"y":1.06},{"s":"2c","x":63,"y":1.3},{"s":"2c","x":67,"y":1.56},{"s":"2c","x":70,"y":1.88},{"s":"2c","x":72,"y":2.3},{"s":"2c","x":74,"y":2.69},
{"s":"3c","x":0,"y":0.13},{"s":"3c","x":5,"y":0.22},{"s":"3c","x":10.5,"y":0.31},{"s":"3c","x":15,"y":0.38},{"s":"3c","x":20.5,"y":0.44},{"s":"3c","x":25,"y":0.48},{"s":"3c","x":29,"y":0.51},{"s":"3c","x":34,"y":0.57},{"s":"3c","x":42,"y":0.68},{"s":"3c","x":52,"y":0.84},{"s":"3c","x":60,"y":1.03},{"s":"3c","x":66,"y":1.27},{"s":"3c","x":70,"y":1.55},{"s":"3c","x":73,"y":1.88},{"s":"3c","x":76,"y":2.3},{"s":"3c","x":78,"y":2.69},
{"s":"4c","x":0,"y":0.13},{"s":"4c","x":5,"y":0.25},{"s":"4c","x":10,"y":0.36},{"s":"4c","x":15,"y":0.43},{"s":"4c","x":20,"y":0.47},{"s":"4c","x":25,"y":0.49},{"s":"4c","x":30,"y":0.52},{"s":"4c","x":34,"y":0.57},{"s":"4c","x":42,"y":0.67},{"s":"4c","x":53,"y":0.82},{"s":"4c","x":62,"y":1},{"s":"4c","x":69,"y":1.25},{"s":"4c","x":73,"y":1.53},{"s":"4c","x":77,"y":1.88},{"s":"4c","x":80,"y":2.3},{"s":"4c","x":82,"y":2.69},
{"s":"5c","x":0,"y":0.13},{"s":"5c","x":5,"y":0.22},{"s":"5c","x":10.5,"y":0.31},{"s":"5c","x":15,"y":0.38},{"s":"5c","x":20.5,"y":0.44},{"s":"5c","x":25,"y":0.48},{"s":"5c","x":29,"y":0.51},{"s":"5c","x":34,"y":0.57},{"s":"5c","x":42,"y":0.66},{"s":"5c","x":54,"y":0.8},{"s":"5c","x":64,"y":0.98},{"s":"5c","x":71,"y":1.23},{"s":"5c","x":76,"y":1.52},{"s":"5c","x":80,"y":1.88},{"s":"5c","x":83,"y":2.3},{"s":"5c","x":85.5,"y":2.69},
{"s":"6c","x":0,"y":0.13},{"s":"6c","x":5,"y":0.25},{"s":"6c","x":10,"y":0.36},{"s":"6c","x":15,"y":0.43},{"s":"6c","x":20,"y":0.47},{"s":"6c","x":25,"y":0.49},{"s":"6c","x":30,"y":0.52},{"s":"6c","x":34,"y":0.57},{"s":"6c","x":42,"y":0.65},{"s":"6c","x":55,"y":0.78},{"s":"6c","x":66,"y":0.95},{"s":"6c","x":74,"y":1.2},{"s":"6c","x":79,"y":1.5},{"s":"6c","x":84,"y":1.88},{"s":"6c","x":87,"y":2.3},{"s":"6c","x":89,"y":2.69},
{"s":"7c","x":0,"y":0.13},{"s":"7c","x":5,"y":0.22},{"s":"7c","x":10.5,"y":0.31},{"s":"7c","x":15,"y":0.38},{"s":"7c","x":20.5,"y":0.44},{"s":"7c","x":25,"y":0.48},{"s":"7c","x":29,"y":0.51},{"s":"7c","x":34,"y":0.57},{"s":"7c","x":40,"y":0.6},{"s":"7c","x":48,"y":0.64},{"s":"7c","x":58,"y":0.76},{"s":"7c","x":67,"y":0.93},{"s":"7c","x":75,"y":1.15},{"s":"7c","x":81,"y":1.45},{"s":"7c","x":87,"y":1.85},{"s":"7c","x":91,"y":2.3},{"s":"7c","x":93,"y":2.69},
{"s":"8c","x":0,"y":0.13},{"s":"8c","x":5,"y":0.25},{"s":"8c","x":10,"y":0.36},{"s":"8c","x":15,"y":0.43},{"s":"8c","x":20,"y":0.47},{"s":"8c","x":25,"y":0.49},{"s":"8c","x":30,"y":0.52},{"s":"8c","x":34,"y":0.57},{"s":"8c","x":38,"y":0.58},{"s":"8c","x":48,"y":0.64},{"s":"8c","x":58,"y":0.76},{"s":"8c","x":70.5,"y":0.98},{"s":"8c","x":80.5,"y":1.28},{"s":"8c","x":88,"y":1.58},{"s":"8c","x":94,"y":1.88},{"s":"8c","x":98,"y":2.25},{"s":"8c","x":101.75,"y":2.69}
]},
"layer":[
{"mark":{"type":"line","strokeWidth":1.4,"color":"#3466a4","clip":true},
"encoding":{
"x":{"field":"x","type":"quantitative","scale":{"domain":[-10,200],"nice":false,"zero":false},"axis":{"orient":"bottom","values":[0,25,50,75,100,125,150,175,200],"format":"d","labelExpr":"datum.value % 50 == 0 ? datum.label : ''","title":"Spec. capacity (mAhg⁻¹)","titlePadding":36}},
"y":{"field":"y","type":"quantitative","scale":{"domain":[0,2.75],"nice":false,"zero":false},"axis":{"orient":"left","values":[0,0.25,0.5,0.75,1,1.25,1.5,1.75,2,2.25,2.5,2.75],"format":".1f","labelExpr":"datum.value % 0.5 == 0 ? datum.label : ''","title":"Potential v/s Li (V)"}},
"detail":{"field":"s"},
"order":{"value":null}
}},
{"mark":{"type":"line","opacity":0},
"encoding":{
"x":{"field":"x","type":"quantitative","axis":{"orient":"top","values":[0,25,50,75,100,125,150,175,200],"labels":false,"title":"d)","titleX":-72,"titleY":-24,"titleAlign":"left","titleBaseline":"alphabetic","titleAngle":0,"titleFontSize":31}},
"y":{"field":"y","type":"quantitative","axis":{"orient":"right","values":[0,0.25,0.5,0.75,1,1.25,1.5,1.75,2,2.25,2.5,2.75],"labels":false,"title":"n=4","titleX":-137.5,"titleY":-17,"titleAngle":0,"titleAlign":"center","titleBaseline":"alphabetic","titleFontSize":29}},
"detail":{"field":"s"}
}}
]
},
{
"width":281,"height":303,
"resolve":{"axis":{"x":"independent","y":"independent"}},
"data":{"values":[
{"s":"1d","x":0.5,"y":2.67},{"s":"1d","x":1,"y":2},{"s":"1d","x":1.5,"y":1.6},{"s":"1d","x":2,"y":1.36},{"s":"1d","x":5,"y":1.23},{"s":"1d","x":12.5,"y":1.08},{"s":"1d","x":20,"y":0.92},{"s":"1d","x":27.5,"y":0.77},{"s":"1d","x":34,"y":0.61},{"s":"1d","x":37.5,"y":0.53},{"s":"1d","x":40,"y":0.48},{"s":"1d","x":50,"y":0.33},{"s":"1d","x":60,"y":0.2},{"s":"1d","x":66,"y":0.14},{"s":"1d","x":72.5,"y":0.11},
{"s":"2d","x":0.5,"y":2.67},{"s":"2d","x":1,"y":2},{"s":"2d","x":1.5,"y":1.6},{"s":"2d","x":2,"y":1.36},{"s":"2d","x":5,"y":1.23},{"s":"2d","x":12.5,"y":1.08},{"s":"2d","x":20,"y":0.92},{"s":"2d","x":27.5,"y":0.77},{"s":"2d","x":34,"y":0.61},{"s":"2d","x":37.5,"y":0.53},{"s":"2d","x":41,"y":0.47},{"s":"2d","x":51,"y":0.34},{"s":"2d","x":61,"y":0.22},{"s":"2d","x":70,"y":0.14},{"s":"2d","x":77.5,"y":0.11},
{"s":"3d","x":0.5,"y":2.67},{"s":"3d","x":1,"y":2},{"s":"3d","x":1.5,"y":1.6},{"s":"3d","x":2,"y":1.36},{"s":"3d","x":5,"y":1.23},{"s":"3d","x":12.5,"y":1.08},{"s":"3d","x":20,"y":0.92},{"s":"3d","x":27.5,"y":0.77},{"s":"3d","x":34,"y":0.61},{"s":"3d","x":37.5,"y":0.53},{"s":"3d","x":41,"y":0.48},{"s":"3d","x":52,"y":0.36},{"s":"3d","x":63,"y":0.24},{"s":"3d","x":74,"y":0.15},{"s":"3d","x":82.5,"y":0.11},
{"s":"4d","x":0.5,"y":2.67},{"s":"4d","x":1,"y":2},{"s":"4d","x":1.5,"y":1.6},{"s":"4d","x":2,"y":1.36},{"s":"4d","x":5,"y":1.23},{"s":"4d","x":12.5,"y":1.08},{"s":"4d","x":20,"y":0.92},{"s":"4d","x":27.5,"y":0.77},{"s":"4d","x":34,"y":0.61},{"s":"4d","x":37.5,"y":0.53},{"s":"4d","x":42,"y":0.48},{"s":"4d","x":54,"y":0.38},{"s":"4d","x":66,"y":0.26},{"s":"4d","x":78,"y":0.16},{"s":"4d","x":87.5,"y":0.11},
{"s":"5d","x":0.5,"y":2.67},{"s":"5d","x":1,"y":2},{"s":"5d","x":1.5,"y":1.6},{"s":"5d","x":2,"y":1.36},{"s":"5d","x":5,"y":1.23},{"s":"5d","x":12.5,"y":1.08},{"s":"5d","x":20,"y":0.92},{"s":"5d","x":27.5,"y":0.77},{"s":"5d","x":34,"y":0.61},{"s":"5d","x":37.5,"y":0.53},{"s":"5d","x":42,"y":0.49},{"s":"5d","x":56,"y":0.4},{"s":"5d","x":68,"y":0.3},{"s":"5d","x":80,"y":0.2},{"s":"5d","x":92.5,"y":0.11},
{"s":"6d","x":0.5,"y":2.67},{"s":"6d","x":1,"y":2},{"s":"6d","x":1.5,"y":1.6},{"s":"6d","x":2,"y":1.36},{"s":"6d","x":5,"y":1.23},{"s":"6d","x":12.5,"y":1.08},{"s":"6d","x":20,"y":0.92},{"s":"6d","x":27.5,"y":0.77},{"s":"6d","x":34,"y":0.61},{"s":"6d","x":37.5,"y":0.53},{"s":"6d","x":40,"y":0.49},{"s":"6d","x":45,"y":0.44},{"s":"6d","x":52.5,"y":0.39},{"s":"6d","x":62.5,"y":0.375},{"s":"6d","x":70,"y":0.33},{"s":"6d","x":82.5,"y":0.23},{"s":"6d","x":92,"y":0.17},{"s":"6d","x":102.5,"y":0.11},
{"s":"1c","x":0,"y":0.125},{"s":"1c","x":6,"y":0.19},{"s":"1c","x":12.5,"y":0.27},{"s":"1c","x":19,"y":0.33},{"s":"1c","x":25,"y":0.39},{"s":"1c","x":30,"y":0.45},{"s":"1c","x":35,"y":0.52},{"s":"1c","x":42.5,"y":0.64},{"s":"1c","x":50,"y":0.8},{"s":"1c","x":57.5,"y":0.98},{"s":"1c","x":62.5,"y":1.2},{"s":"1c","x":66,"y":1.45},{"s":"1c","x":69,"y":1.8},{"s":"1c","x":71,"y":2.27},{"s":"1c","x":74,"y":2.8},
{"s":"2c","x":0,"y":0.125},{"s":"2c","x":6,"y":0.19},{"s":"2c","x":12.5,"y":0.27},{"s":"2c","x":19,"y":0.33},{"s":"2c","x":25,"y":0.39},{"s":"2c","x":30,"y":0.45},{"s":"2c","x":35,"y":0.52},{"s":"2c","x":43,"y":0.64},{"s":"2c","x":51,"y":0.79},{"s":"2c","x":58.5,"y":0.97},{"s":"2c","x":64,"y":1.19},{"s":"2c","x":68,"y":1.45},{"s":"2c","x":71,"y":1.8},{"s":"2c","x":73,"y":2.27},{"s":"2c","x":75,"y":2.8},
{"s":"3c","x":0,"y":0.125},{"s":"3c","x":6,"y":0.19},{"s":"3c","x":12.5,"y":0.27},{"s":"3c","x":19,"y":0.33},{"s":"3c","x":25,"y":0.39},{"s":"3c","x":30,"y":0.45},{"s":"3c","x":35,"y":0.52},{"s":"3c","x":43,"y":0.63},{"s":"3c","x":52,"y":0.78},{"s":"3c","x":60,"y":0.96},{"s":"3c","x":65.5,"y":1.18},{"s":"3c","x":70,"y":1.45},{"s":"3c","x":73,"y":1.8},{"s":"3c","x":75.5,"y":2.27},{"s":"3c","x":78,"y":2.8},
{"s":"4c","x":0,"y":0.125},{"s":"4c","x":6,"y":0.19},{"s":"4c","x":12.5,"y":0.27},{"s":"4c","x":19,"y":0.33},{"s":"4c","x":25,"y":0.39},{"s":"4c","x":30,"y":0.45},{"s":"4c","x":35,"y":0.52},{"s":"4c","x":43.5,"y":0.63},{"s":"4c","x":53,"y":0.77},{"s":"4c","x":61,"y":0.95},{"s":"4c","x":67,"y":1.18},{"s":"4c","x":72,"y":1.46},{"s":"4c","x":75,"y":1.8},{"s":"4c","x":78,"y":2.27},{"s":"4c","x":80.5,"y":2.8},
{"s":"5c","x":0,"y":0.125},{"s":"5c","x":6,"y":0.19},{"s":"5c","x":12.5,"y":0.27},{"s":"5c","x":19,"y":0.33},{"s":"5c","x":25,"y":0.39},{"s":"5c","x":30,"y":0.45},{"s":"5c","x":35,"y":0.52},{"s":"5c","x":44,"y":0.62},{"s":"5c","x":54,"y":0.76},{"s":"5c","x":62.5,"y":0.95},{"s":"5c","x":69,"y":1.18},{"s":"5c","x":74,"y":1.46},{"s":"5c","x":77.5,"y":1.8},{"s":"5c","x":81,"y":2.27},{"s":"5c","x":84,"y":2.8},
{"s":"6c","x":0,"y":0.125},{"s":"6c","x":6,"y":0.19},{"s":"6c","x":12.5,"y":0.27},{"s":"6c","x":19,"y":0.33},{"s":"6c","x":25,"y":0.39},{"s":"6c","x":30,"y":0.45},{"s":"6c","x":35,"y":0.52},{"s":"6c","x":40,"y":0.55},{"s":"6c","x":45,"y":0.6},{"s":"6c","x":50,"y":0.67},{"s":"6c","x":55,"y":0.73},{"s":"6c","x":62.5,"y":0.95},{"s":"6c","x":70,"y":1.2},{"s":"6c","x":75,"y":1.48},{"s":"6c","x":80,"y":1.8},{"s":"6c","x":84,"y":2.27},{"s":"6c","x":90,"y":2.8}
]},
"layer":[
{"mark":{"type":"line","strokeWidth":1.3,"color":"#3466a4","clip":true},
"encoding":{
"x":{"field":"x","type":"quantitative","scale":{"domain":[-10,200],"nice":false,"zero":false},"axis":{"orient":"bottom","values":[0,25,50,75,100,125,150,175,200],"format":"d","labelExpr":"datum.value % 50 == 0 ? datum.label : ''","title":"Spec. capacity (mAhg⁻¹)","titlePadding":36}},
"y":{"field":"y","type":"quantitative","scale":{"domain":[0,2.85],"nice":false,"zero":false},"axis":{"orient":"left","values":[0,0.25,0.5,0.75,1,1.25,1.5,1.75,2,2.25,2.5,2.75],"format":".1f","labelExpr":"datum.value % 0.5 == 0 ? datum.label : ''","title":"Potential vs Li (V)"}},
"detail":{"field":"s"},
"order":{"value":null}
}},
{"mark":{"type":"line","opacity":0},
"encoding":{
"x":{"field":"x","type":"quantitative","axis":{"orient":"top","values":[0,25,50,75,100,125,150,175,200],"labels":false,"title":"e)","titleX":-85,"titleY":-24,"titleAlign":"left","titleBaseline":"alphabetic","titleAngle":0,"titleFontSize":31}},
"y":{"field":"y","type":"quantitative","axis":{"orient":"right","values":[0,0.25,0.5,0.75,1,1.25,1.5,1.75,2,2.25,2.5,2.75],"labels":false,"title":"bulk","titleX":-142.5,"titleY":-21,"titleAngle":0,"titleAlign":"center","titleBaseline":"alphabetic","titleFontSize":29}},
"detail":{"field":"s"}
}}
]
},
{
"width":281,"height":297,
"resolve":{"axis":{"x":"independent","y":"independent"}},
"data":{"values":[
{"m":"Br","s":"Bc1","x":0,"y":0.106},{"m":"Br","s":"Bc1","x":0.0077,"y":0.39},{"m":"Br","s":"Bc1","x":0.0177,"y":0.55},{"m":"Br","s":"Bc1","x":0.0339,"y":0.61},{"m":"Br","s":"Bc1","x":0.0389,"y":0.88},{"m":"Br","s":"Bc1","x":0.0399,"y":1.03},{"m":"Br","s":"Bc1","x":0.0409,"y":1.33},{"m":"Br","s":"Bc1","x":0.0423,"y":1.94},{"m":"Br","s":"Bc1","x":0.0439,"y":2.29},{"m":"Br","s":"Bc1","x":0.052,"y":2.48},{"m":"Br","s":"Bc1","x":0.0591,"y":2.71},
{"m":"Br","s":"Bd1","x":0,"y":2.17},{"m":"Br","s":"Bd1","x":0.0036,"y":2.05},{"m":"Br","s":"Bd1","x":0.0238,"y":2.02},{"m":"Br","s":"Bd1","x":0.0248,"y":1.94},{"m":"Br","s":"Bd1","x":0.0258,"y":1.64},{"m":"Br","s":"Bd1","x":0.0278,"y":1.45},{"m":"Br","s":"Bd1","x":0.0339,"y":1.3},{"m":"Br","s":"Bd1","x":0.0399,"y":1.21},{"m":"Br","s":"Bd1","x":0.048,"y":1.03},{"m":"Br","s":"Bd1","x":0.0581,"y":0.85},{"m":"Br","s":"Bd1","x":0.0702,"y":0.7},{"m":"Br","s":"Bd1","x":0.0782,"y":0.515},{"m":"Br","s":"Bd1","x":0.0883,"y":0.515},{"m":"Br","s":"Bd1","x":0.0964,"y":0.42},{"m":"Br","s":"Bd1","x":0.1085,"y":0.38},{"m":"Br","s":"Bd1","x":0.1206,"y":0.33},{"m":"Br","s":"Bd1","x":0.1286,"y":0.24},{"m":"Br","s":"Bd1","x":0.1407,"y":0.12},
{"m":"Br","s":"Bd2","x":0,"y":2.67},{"m":"Br","s":"Bd2","x":0.0016,"y":1.94},{"m":"Br","s":"Bd2","x":0.0036,"y":1.33},{"m":"Br","s":"Bd2","x":0.0077,"y":1.03},{"m":"Br","s":"Bd2","x":0.0137,"y":0.73},{"m":"Br","s":"Bd2","x":0.0238,"y":0.42},{"m":"Br","s":"Bd2","x":0.0359,"y":0.21},{"m":"Br","s":"Bd2","x":0.0439,"y":0.106},
{"m":"Br","s":"Bd3","x":0.0006,"y":2.15},{"m":"Br","s":"Bd3","x":0.0046,"y":1.64},{"m":"Br","s":"Bd3","x":0.0077,"y":1.27},{"m":"Br","s":"Bd3","x":0.0117,"y":0.91},{"m":"Br","s":"Bd3","x":0.0177,"y":0.52},{"m":"Br","s":"Bd3","x":0.0228,"y":0.27},{"m":"Br","s":"Bd3","x":0.0278,"y":0.106},
{"m":"Br","s":"Bd4","x":0.0016,"y":0.97},{"m":"Br","s":"Bd4","x":0.0077,"y":0.52},{"m":"Br","s":"Bd4","x":0.0157,"y":0.21},{"m":"Br","s":"Bd4","x":0.0198,"y":0.106},
{"m":"Br","s":"Bc2","x":0,"y":0.106},{"m":"Br","s":"Bc2","x":0.0077,"y":0.48},{"m":"Br","s":"Bc2","x":0.0137,"y":0.73},{"m":"Br","s":"Bc2","x":0.0177,"y":1.03},{"m":"Br","s":"Bc2","x":0.0198,"y":1.48},{"m":"Br","s":"Bc2","x":0.0204,"y":1.94},{"m":"Br","s":"Bc2","x":0.0208,"y":2.24},{"m":"Br","s":"Bc2","x":0.0218,"y":2.71},
{"m":"Br","s":"Bc3","x":0,"y":0.106},{"m":"Br","s":"Bc3","x":0.0097,"y":0.55},{"m":"Br","s":"Bc3","x":0.0198,"y":0.88},{"m":"Br","s":"Bc3","x":0.0258,"y":1.33},{"m":"Br","s":"Bc3","x":0.0278,"y":1.94},{"m":"Br","s":"Bc3","x":0.0319,"y":2.39},{"m":"Br","s":"Bc3","x":0.0349,"y":2.71},
{"m":"Br","s":"Bc4","x":0,"y":0.106},{"m":"Br","s":"Bc4","x":0.0016,"y":0.73},{"m":"Br","s":"Bc4","x":0.002,"y":1.64},{"m":"Br","s":"Bc4","x":0.0016,"y":2.24},{"m":"Br","s":"Bc4","x":0.0036,"y":2.52},{"m":"Br","s":"Bc4","x":0.0087,"y":2.71},
{"m":"I","s":"Id1","x":0.0006,"y":2.09},{"m":"I","s":"Id1","x":0.0077,"y":2.05},{"m":"I","s":"Id1","x":0.0157,"y":2.02},{"m":"I","s":"Id1","x":0.0177,"y":1.97},{"m":"I","s":"Id1","x":0.0187,"y":1.82},{"m":"I","s":"Id1","x":0.0208,"y":1.64},{"m":"I","s":"Id1","x":0.0238,"y":1.48},{"m":"I","s":"Id1","x":0.0278,"y":1.36},{"m":"I","s":"Id1","x":0.0319,"y":1.23},{"m":"I","s":"Id1","x":0.0379,"y":1.12},{"m":"I","s":"Id1","x":0.048,"y":1},{"m":"I","s":"Id1","x":0.0581,"y":0.83},{"m":"I","s":"Id1","x":0.0641,"y":0.79},{"m":"I","s":"Id1","x":0.0702,"y":0.7},{"m":"I","s":"Id1","x":0.0782,"y":0.56},{"m":"I","s":"Id1","x":0.0863,"y":0.52},{"m":"I","s":"Id1","x":0.0964,"y":0.41},{"m":"I","s":"Id1","x":0.1044,"y":0.38},{"m":"I","s":"Id1","x":0.1165,"y":0.29},{"m":"I","s":"Id1","x":0.1286,"y":0.2},{"m":"I","s":"Id1","x":0.1427,"y":0.106},
{"m":"I","s":"Id2","x":0,"y":2.62},{"m":"I","s":"Id2","x":0.0002,"y":2.24},{"m":"I","s":"Id2","x":0.0004,"y":1.79},{"m":"I","s":"Id2","x":0.0008,"y":1.39},{"m":"I","s":"Id2","x":0.0026,"y":1.15},{"m":"I","s":"Id2","x":0.0056,"y":0.91},{"m":"I","s":"Id2","x":0.0087,"y":0.73},{"m":"I","s":"Id2","x":0.0127,"y":0.55},{"m":"I","s":"Id2","x":0.0177,"y":0.36},{"m":"I","s":"Id2","x":0.0228,"y":0.21},{"m":"I","s":"Id2","x":0.0278,"y":0.106},
{"m":"I","s":"Id3","x":0,"y":2.39},{"m":"I","s":"Id3","x":0.0004,"y":1.79},{"m":"I","s":"Id3","x":0.0012,"y":1.33},{"m":"I","s":"Id3","x":0.0036,"y":1.09},{"m":"I","s":"Id3","x":0.0077,"y":0.88},{"m":"I","s":"Id3","x":0.0127,"y":0.67},{"m":"I","s":"Id3","x":0.0177,"y":0.48},{"m":"I","s":"Id3","x":0.0238,"y":0.33},{"m":"I","s":"Id3","x":0.0308,"y":0.18},{"m":"I","s":"Id3","x":0.0369,"y":0.106},
{"m":"I","s":"Ic1","x":0,"y":0.106},{"m":"I","s":"Ic1","x":0.0077,"y":0.33},{"m":"I","s":"Ic1","x":0.0157,"y":0.67},{"m":"I","s":"Ic1","x":0.0198,"y":1.03},{"m":"I","s":"Ic1","x":0.0228,"y":1.39},{"m":"I","s":"Ic1","x":0.0248,"y":1.79},{"m":"I","s":"Ic1","x":0.0268,"y":2.24},{"m":"I","s":"Ic1","x":0.0278,"y":2.71},
{"m":"I","s":"Ic2","x":0,"y":0.106},{"m":"I","s":"Ic2","x":0.0097,"y":0.42},{"m":"I","s":"Ic2","x":0.0167,"y":0.73},{"m":"I","s":"Ic2","x":0.0228,"y":1.03},{"m":"I","s":"Ic2","x":0.0278,"y":1.39},{"m":"I","s":"Ic2","x":0.0308,"y":1.79},{"m":"I","s":"Ic2","x":0.0329,"y":2.24},{"m":"I","s":"Ic2","x":0.0343,"y":2.71},
{"m":"I","s":"Ic3","x":0,"y":0.106},{"m":"I","s":"Ic3","x":0.0117,"y":0.42},{"m":"I","s":"Ic3","x":0.0177,"y":0.67},{"m":"I","s":"Ic3","x":0.0198,"y":0.73},{"m":"I","s":"Ic3","x":0.0278,"y":1.03},{"m":"I","s":"Ic3","x":0.0329,"y":1.39},{"m":"I","s":"Ic3","x":0.0369,"y":1.79},{"m":"I","s":"Ic3","x":0.0395,"y":2.24},{"m":"I","s":"Ic3","x":0.041,"y":2.71}
]},
"layer":[
{"mark":{"type":"line","clip":true},
"encoding":{
"x":{"field":"x","type":"quantitative","scale":{"domain":[-0.01,0.161],"nice":false,"zero":false},"axis":{"orient":"bottom","values":[0,0.025,0.05,0.075,0.1,0.125,0.15],"format":".2f","labelExpr":"round(datum.value*1000) % 50 == 0 ? datum.label : ''","labelPadding":20,"title":["Norm. capacity","(mAhg⁻¹amu⁻¹)"],"titlePadding":11,"titleLineHeight":36}},
"y":{"field":"y","type":"quantitative","scale":{"domain":[0.1,2.8],"nice":false,"zero":false},"axis":{"orient":"left","values":[0.25,0.5,0.75,1,1.25,1.5,1.75,2,2.25,2.5,2.75],"format":".1f","labelExpr":"datum.value % 0.5 == 0 ? datum.label : ''","title":"Potential v/s Li (V)","titleY":131}},
"color":{"field":"m","type":"nominal","scale":{"domain":["Br","I"],"range":["#f5a3a3","#3466a4"]},"legend":{"orient":"none","legendX":-7,"legendY":-89,"title":null,"symbolType":"stroke","symbolSize":3481,"symbolStrokeWidth":2.5,"labelOffset":10,"labelFontSize":26,"rowPadding":0,"clipHeight":36,"labelExpr":"'(BA)₂(MA)₃Pb₄'"}},
"strokeDash":{"field":"m","type":"nominal","scale":{"domain":["Br","I"],"range":[[9,6],[1,0]]},"legend":{"orient":"none","legendX":-7,"legendY":-89,"title":null,"symbolType":"stroke","symbolSize":3481,"symbolStrokeWidth":2.5,"labelOffset":10,"labelFontSize":26,"rowPadding":0,"clipHeight":36,"labelExpr":"'(BA)₂(MA)₃Pb₄'"}},
"strokeWidth":{"field":"m","type":"ordinal","scale":{"range":[2.5,2.5]},"legend":{"orient":"none","legendX":210,"legendY":-86,"title":null,"symbolOpacity":0,"symbolSize":0,"labelOffset":0,"labelFontSize":26,"rowPadding":10,"labelExpr":"datum.label == 'Br' ? 'Br₁₃' : 'I₁₃'","labelColor":{"expr":"datum.value == 'Br' ? '#f5a3a3' : '#3466a4'"}}},
"detail":{"field":"s"},
"order":{"value":null}
}},
{"mark":{"type":"line","opacity":0},
"encoding":{
"x":{"field":"x","type":"quantitative","axis":{"orient":"top","values":[0,0.025,0.05,0.075,0.1,0.125,0.15],"labels":false,"title":"f)","titleX":-69.5,"titleY":-27,"titleAlign":"left","titleBaseline":"alphabetic","titleAngle":0,"titleFontSize":31}},
"y":{"field":"y","type":"quantitative","axis":{"orient":"right","values":[0.25,0.5,0.75,1,1.25,1.5,1.75,2,2.25,2.5,2.75],"labels":false,"title":null}},
"detail":{"field":"s"}
}}
]
}
],
"config":{
"font":"Liberation Serif",
"view":{"stroke":"#000000","strokeWidth":2},
"axis":{"domain":false,"grid":false,"ticks":true,"tickColor":"#000000","tickWidth":2,"tickSize":-8,"labelFont":"Liberation Serif","labelFontSize":25,"labelColor":"#000000","labelPadding":16,"labelOverlap":false,"labelFlush":false,"titleFont":"Liberation Serif","titleFontSize":32,"titleFontWeight":"normal","titleColor":"#000000","titlePadding":10},
"axisY":{"titleFontSize":31},
"legend":{"labelFont":"Liberation Serif","labelColor":"#000000","padding":0,"labelLimit":0}
}
}
